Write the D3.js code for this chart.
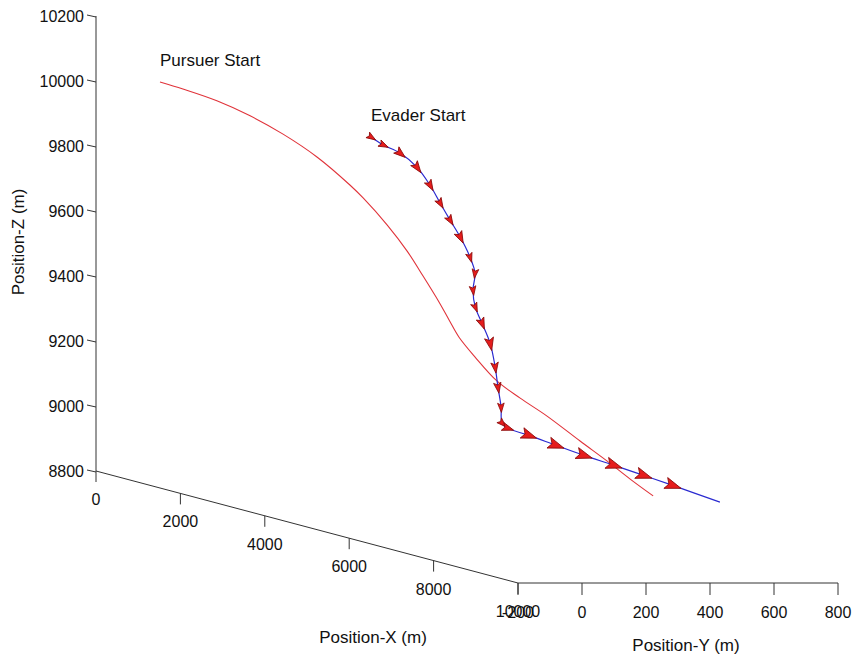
<!DOCTYPE html>
<html>
<head>
<meta charset="utf-8">
<script src="https://cdn.jsdelivr.net/npm/d3@7"></script>
<style>
  body { margin: 0; background: #ffffff; }
  text { font-family: "Liberation Sans", Arial, Helvetica, sans-serif; fill: #111; }
</style>
</head>
<body>
<div id="chart"></div>
<script>
// pursuer trajectory (m)
const pursuerX = [0, 400, 900, 1400, 1900, 2400, 2900, 3100, 3500, 3900, 4300, 4700, 5000, 5300, 5700, 6200, 6700, 7200, 7800, 8300, 8700, 9100];
const pursuerY = [0, 19, 59, 97, 134, 174, 211, 226, 248, 258, 255, 252, 244, 235, 233, 236, 242, 260, 284, 302, 322, 341];
const pursuerZ = [9997, 9989, 9970, 9941, 9902, 9849, 9780, 9747, 9678, 9611, 9548, 9482, 9437, 9395, 9347, 9290, 9255, 9217, 9161, 9117, 9075, 9037];

// evader trajectory (m)
const evaderX = [5000, 5150, 5300, 5450, 5600, 5750, 5900, 6050, 6200, 6350, 6500, 6650, 6800, 6950, 7100, 7250, 7400, 7550, 7650, 7850, 8150, 8450, 8750, 9100, 9450, 10000];
const evaderY = [0, 18, 51, 84, 105, 117, 128, 140, 151, 147, 121, 108, 109, 115, 111, 100, 90, 73, 76, 115, 160, 208, 262, 309, 354, 431];
const evaderZ = [10000, 9981, 9961, 9923, 9873, 9823, 9776, 9729, 9672, 9628, 9581, 9534, 9490, 9433, 9365, 9308, 9252, 9208, 9196, 9181, 9161, 9140, 9120, 9101, 9082, 9049];

const xTicks = [0, 2000, 4000, 6000, 8000, 10000];
const yTicks = [-200, 0, 200, 400, 600, 800];
const zTicks = [8800, 9000, 9200, 9400, 9600, 9800, 10000, 10200];

const width = 861, height = 658;

// oblique projection built from linear scales
const xToSx = d3.scaleLinear().domain([0, 10000]).range([96, 518]);
const xToSy = d3.scaleLinear().domain([0, 10000]).range([0, 112]);
const yToSx = d3.scaleLinear().domain([-200, 800]).range([0, 320]);
const zToSy = d3.scaleLinear().domain([8800, 10200]).range([471, 16]);
const proj = (x, y, z) => [xToSx(x) + yToSx(y), xToSy(x) + zToSy(z)];

const svg = d3.select('#chart').append('svg')
  .attr('width', width)
  .attr('height', height);

svg.append('rect').attr('width', width).attr('height', height).attr('fill', '#fff');

const axisColor = '#333';
const axes = svg.append('g').attr('stroke', axisColor).attr('stroke-width', 1).attr('fill', 'none');

// Z axis (x = 0, y = -200)
const z0 = proj(0, -200, 8800), z1 = proj(0, -200, 10200);
axes.append('line').attr('x1', z0[0]).attr('y1', z0[1]).attr('x2', z1[0]).attr('y2', z1[1]);
zTicks.forEach((t) => {
  const p = proj(0, -200, t);
  axes.append('line').attr('x1', p[0] - 9).attr('y1', p[1] - 1).attr('x2', p[0]).attr('y2', p[1] + 1);
  svg.append('text').attr('x', p[0] - 12).attr('y', p[1] + 6)
    .attr('text-anchor', 'end').attr('font-size', 16).text(t);
});

// X axis (y = -200, z = 8800)
const x0 = proj(0, -200, 8800), x1 = proj(10000, -200, 8800);
axes.append('line').attr('x1', x0[0]).attr('y1', x0[1]).attr('x2', x1[0]).attr('y2', x1[1]);
xTicks.forEach((t) => {
  const p = proj(t, -200, 8800);
  axes.append('line').attr('x1', p[0]).attr('y1', p[1]).attr('x2', p[0]).attr('y2', p[1] + 11);
  svg.append('text').attr('x', p[0]).attr('y', p[1] + 34)
    .attr('text-anchor', 'middle').attr('font-size', 16).text(t);
});

// Y axis (x = 10000, z = 8800); its first label sits on the X axis' last one, as in the source
const y0 = proj(10000, -200, 8800), y1 = proj(10000, 800, 8800);
axes.append('line').attr('x1', y0[0]).attr('y1', y0[1]).attr('x2', y1[0]).attr('y2', y1[1]);
yTicks.forEach((t) => {
  const p = proj(10000, t, 8800);
  axes.append('line').attr('x1', p[0]).attr('y1', p[1]).attr('x2', p[0]).attr('y2', p[1] + 12);
  svg.append('text').attr('x', p[0]).attr('y', p[1] + 35)
    .attr('text-anchor', 'middle').attr('font-size', 16).text(t);
});

// axis titles
svg.append('text').attr('transform', 'translate(24,242) rotate(-90)')
  .attr('text-anchor', 'middle').attr('font-size', 17).text('Position-Z (m)');
svg.append('text').attr('x', 373).attr('y', 643)
  .attr('text-anchor', 'middle').attr('font-size', 17).text('Position-X (m)');
svg.append('text').attr('x', 686).attr('y', 651)
  .attr('text-anchor', 'middle').attr('font-size', 17).text('Position-Y (m)');

const pursuer = pursuerX.map((x, i) => proj(x, pursuerY[i], pursuerZ[i]));
const evader = evaderX.map((x, i) => proj(x, evaderY[i], evaderZ[i]));

const line = d3.line().curve(d3.curveCatmullRom.alpha(0.5));

svg.append('path').attr('d', line(pursuer))
  .attr('fill', 'none').attr('stroke', '#e0333a').attr('stroke-width', 1.1);

svg.append('path').attr('d', line(evader))
  .attr('fill', 'none').attr('stroke', '#2a2ad0').attr('stroke-width', 1.2);

// aircraft markers along evader path
const markerSize = d3.scaleLinear().domain([18, 30]).range([5.5, 9.5]).clamp(true);
const markers = svg.append('g');
evader.slice(0, -1).forEach((p, i) => {
  const q = evader[i + 1];
  const dx = q[0] - p[0], dy = q[1] - p[1];
  const len = Math.hypot(dx, dy);
  const ang = Math.atan2(dy, dx) * 180 / Math.PI;
  const s = markerSize(len);
  markers.append('path')
    .attr('transform', `translate(${p[0]},${p[1]}) rotate(${ang})`)
    .attr('d', `M${s},0 L${-s * 0.7},${-s * 0.6} L${-s * 0.35},0 L${-s * 0.7},${s * 0.6} Z`)
    .attr('fill', '#e51c1c')
    .attr('stroke', '#8a0a0a')
    .attr('stroke-width', 0.8)
    .attr('stroke-linejoin', 'round');
});

// start labels
svg.append('text').attr('x', pursuer[0][0]).attr('y', pursuer[0][1] - 16)
  .attr('font-size', 17).text('Pursuer Start');
svg.append('text').attr('x', evader[0][0]).attr('y', evader[0][1] - 16)
  .attr('font-size', 17).text('Evader Start');
</script>
</body>
</html>
